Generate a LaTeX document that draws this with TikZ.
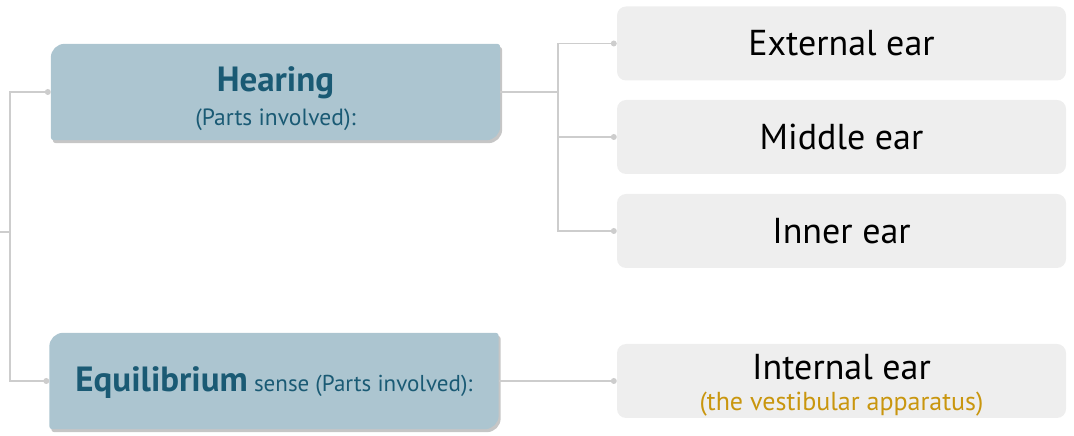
\documentclass[tikz,border=0pt]{standalone}
\usepackage{fontspec}
\setmainfont{PT Sans}
\usetikzlibrary{calc}
\definecolor{boxblue}{HTML}{ACC5D0}
\definecolor{tealtxt}{HTML}{1A5A74}
\definecolor{leafgray}{HTML}{EEEEEE}
\definecolor{linegray}{HTML}{CDCDCD}
\definecolor{goldtxt}{HTML}{C9960E}
% #1 node, #2 fill options, #3 dx, #4 dy
\newcommand\mainshape[4]{%
  \fill[#2] let \p1=(#1.south west), \p2=(#1.north east),
    \n1={\x1+#3}, \n2={\x2+#3}, \n3={\y1+#4}, \n4={\y2+#4} in
    (\n1,\n3+3pt) -- (\n1,\n4-14pt) arc[start angle=180,end angle=90,radius=14pt]
    -- (\n2-3pt,\n4) arc[start angle=90,end angle=0,radius=3pt]
    -- (\n2,\n3+14pt) arc[start angle=0,end angle=-90,radius=14pt]
    -- (\n1+3pt,\n3) arc[start angle=270,end angle=180,radius=3pt] -- cycle;}
\tikzset{
  mainbox/.style={rectangle, inner sep=0pt, minimum width=449pt, minimum height=96pt},
  leafbox/.style={rectangle, fill=leafgray, rounded corners=9pt, inner sep=0pt,
    minimum width=449pt, minimum height=74pt, font=\fontsize{36}{42}\selectfont, text=black},
  conn/.style={draw=linegray, line width=1.6pt},
  dotend/.style={circle, fill=linegray, inner sep=0pt, minimum size=6pt},
  titletxt/.style={text=tealtxt, font=\fontsize{35}{40}\selectfont\bfseries},
  subtxt/.style={text=tealtxt, font=\fontsize{23.5}{26}\selectfont},
}
\begin{document}
\begin{tikzpicture}[x=1pt,y=1pt]
\useasboundingbox (0,0) rectangle (1074,436);
% main boxes
\node[mainbox] (hear) at (275.5,344) {};
\node[mainbox] (equi) at (274,55) {};
\mainshape{hear}{black!50, opacity=0.45}{2pt}{-3pt}
\mainshape{equi}{black!50, opacity=0.45}{2pt}{-3pt}
\mainshape{hear}{boxblue}{0pt}{0pt}
\mainshape{equi}{boxblue}{0pt}{0pt}
\node[titletxt, anchor=base] (hearT) at (275.5,344) {Hearing};
\node[subtxt] (hearS) at (275.5,316) {(Parts involved):};
\node[anchor=base, text=tealtxt] (equiT) at (274,44)
  {\fontsize{35}{40}\selectfont\bfseries Equilibrium\fontsize{23}{26}\mdseries\selectfont{} sense (Parts involved):};
% leaf boxes
\node[leafbox] (ext) at (841.5,392.5) {External ear};
\node[leafbox] (mid) at (841.5,299) {Middle ear};
\node[leafbox] (inn) at (841.5,205) {Inner ear};
\node[leafbox] (int) at (841.5,55) {};
\node[anchor=base, font=\fontsize{36}{42}\selectfont] (intT) at (841.5,56) {Internal ear};
\node[anchor=base, text=goldtxt, font=\fontsize{26}{30}\selectfont] (intS) at (841.5,25) {(the vestibular apparatus)};
% connectors
\coordinate (stub) at (0,204);
\coordinate (lv) at (10,204);
\coordinate (rv) at (558,344);
\draw[conn] (stub) -- (lv);
\draw[conn] ([xshift=-3pt]hear.west) -| (lv) |- ([xshift=-3pt]equi.west);
\draw[conn] (hear.east) -- (rv);
\draw[conn] (rv) |- ([xshift=-3pt]ext.west);
\draw[conn] (rv) |- ([xshift=-3pt]mid.west);
\draw[conn] (rv) |- ([xshift=-3pt]inn.west);
\draw[conn] (equi.east) -- ([xshift=-3pt]int.west);
\node[dotend] (d1) at ([xshift=-3pt]hear.west) {};
\node[dotend] (d2) at ([xshift=-3pt]equi.west) {};
\node[dotend] (d3) at ([xshift=-3pt]ext.west) {};
\node[dotend] (d4) at ([xshift=-3pt]mid.west) {};
\node[dotend] (d5) at ([xshift=-3pt]inn.west) {};
\node[dotend] (d6) at ([xshift=-3pt]int.west) {};
\end{tikzpicture}
\end{document}
